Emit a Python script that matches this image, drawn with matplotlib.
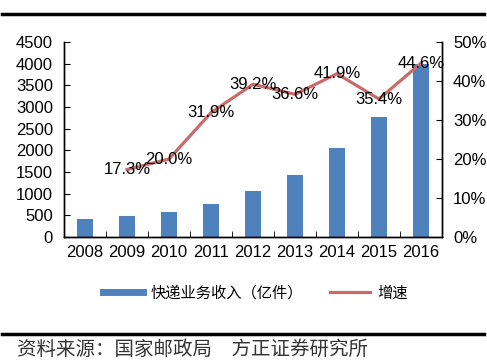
import numpy as np
import matplotlib
matplotlib.use('Agg')
from matplotlib import pyplot as plt
from matplotlib.lines import Line2D

plt.rcParams['font.family'] = ['Liberation Sans', 'Noto Sans CJK SC']

years = ['2008', '2009', '2010', '2011', '2012', '2013', '2014', '2015', '2016']
revenue = [408, 479, 575, 758, 1055, 1442, 2045, 2770, 4005]
growth_years = ['2009', '2010', '2011', '2012', '2013', '2014', '2015', '2016']
growth = [17.3, 20.0, 31.9, 39.2, 36.6, 41.9, 35.4, 44.6]

bar_color = '#4F81BD'
line_color = '#CA6A6A'

fig = plt.figure(figsize=(4.87, 3.63), dpi=100)
ax = fig.add_axes([0.1314, 0.347, 0.7762, 0.537])
ax2 = ax.twinx()

x = np.arange(len(years))
ax.bar(x, revenue, width=0.4, color=bar_color, zorder=2)
ax.set_xlim(-0.5, len(years) - 0.5)
ax.set_ylim(0, 4500)
ax.set_yticks(np.arange(0, 4501, 500))
ax.set_xticks(x)
ax.set_xticklabels(years)
ax.set_xticks(np.arange(-0.5, len(years), 1), minor=True)
ax.tick_params(axis='x', which='major', length=0, pad=6, labelsize=12)
ax.tick_params(axis='x', which='minor', direction='in', length=4)
ax.tick_params(axis='y', direction='in', length=4, pad=8, labelsize=12)

gx = [years.index(y) for y in growth_years]
ax2.plot(gx, growth, color=line_color, lw=2.3, zorder=3)
for xi, g in zip(gx, growth):
    ax2.text(xi, g, '%.1f%%' % g, ha='center', va='center', fontsize=12)
ax2.set_ylim(0, 50)
ax2.set_yticks(np.arange(0, 51, 10))
ax2.set_yticklabels(['%d%%' % v for v in range(0, 51, 10)])
ax2.tick_params(axis='y', direction='in', length=4, pad=8, labelsize=12)

for a in (ax, ax2):
    a.spines['top'].set_visible(False)
    for s in a.spines.values():
        s.set_linewidth(1.0)

handles = [Line2D([], [], color=bar_color, lw=5),
           Line2D([], [], color=line_color, lw=2.3)]
fig.legend(handles, ['快递业务收入（亿件）', '增速'], loc='center',
           bbox_to_anchor=(0.525, 1 - 293 / 363), ncol=2, frameon=False,
           fontsize=11, handlelength=2.6, columnspacing=1.8, handletextpad=0.5)

fig.add_artist(Line2D([0.004, 0.994], [1 - 14 / 363] * 2, color='black', lw=2.5))
fig.add_artist(Line2D([0.004, 0.994], [1 - 334 / 363] * 2, color='black', lw=2.5))
fig.text(0.034, 1 - 350 / 363, '资料来源：国家邮政局　方正证券研究所', fontsize=14,
         va='center', ha='left', color='#333333')

fig.savefig('out.png', dpi=100)
